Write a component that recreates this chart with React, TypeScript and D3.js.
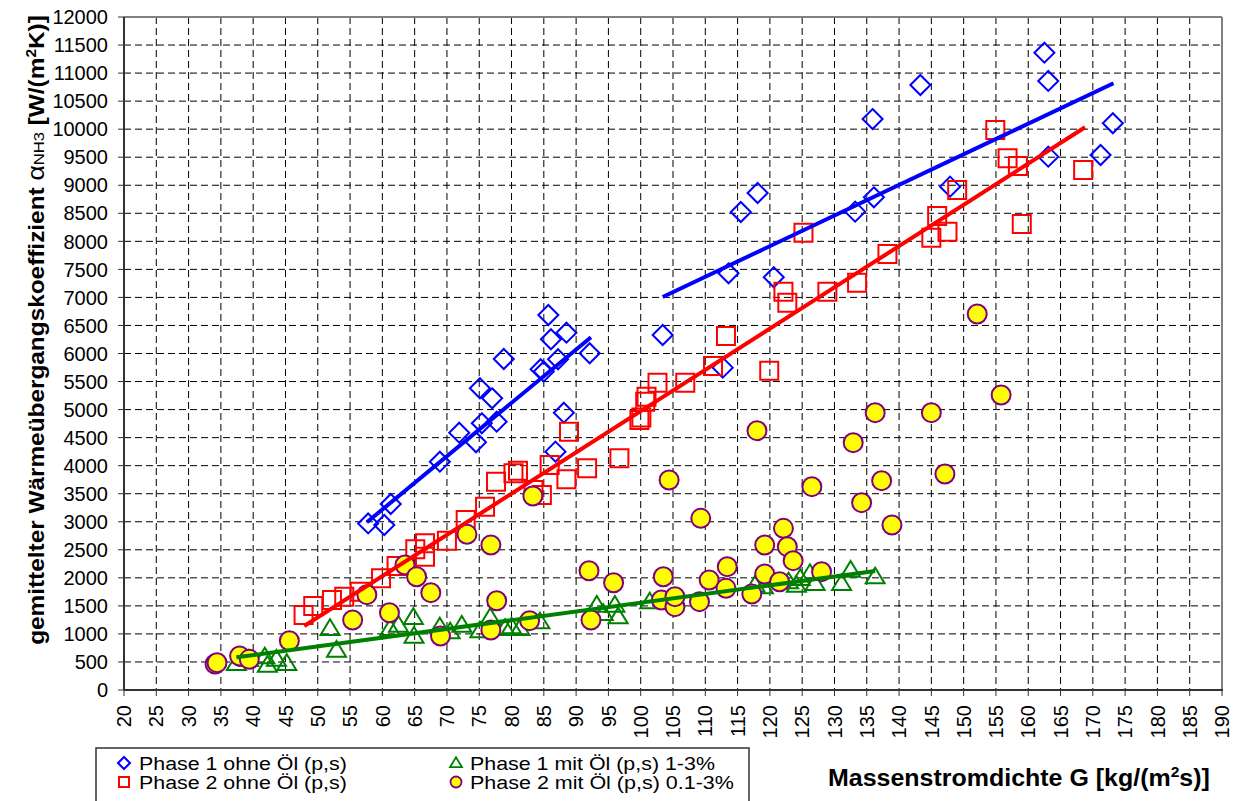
import React, { useLayoutEffect, useRef, useState } from "react";
import * as d3 from "d3";

type Pt = [number, number];

const X_TICKS = d3.range(20, 191, 5);
const Y_TICKS = d3.range(0, 12001, 500);

const phase1Ohne: Pt[] = [
  [57.8, 2970], [60.3, 2942], [61.3, 3317], [68.9, 4071], [71.9, 4588], [74.5, 4417],
  [75.4, 4755], [77.7, 4784], [75.1, 5380], [77.0, 5201], [78.8, 5902], [84.5, 5720],
  [85.0, 5680], [85.7, 6687], [86.1, 6254], [88.5, 6371], [87.2, 5897], [92.1, 6004],
  [88.1, 4945], [86.8, 4250], [103.4, 6330], [113.6, 7430], [120.6, 7359], [112.7, 5748],
  [115.5, 8523], [118.1, 8862], [135.9, 10180], [143.3, 10788], [162.5, 11364], [163.1, 10860],
  [173.1, 10105], [171.2, 9540], [163.1, 9510], [147.9, 8975], [136.1, 8785], [133.2, 8529],
];

const phase2Ohne: Pt[] = [
  [47.8, 1337], [49.3, 1498], [52.2, 1605], [54.1, 1664], [56.5, 1753], [59.8, 1991],
  [62.2, 2211], [65.1, 2509], [66.6, 2377], [66.6, 2616], [70.0, 2663], [72.9, 3031],
  [75.9, 3269], [77.6, 3715], [80.3, 3864], [81.0, 3911], [83.4, 3566], [84.7, 3477],
  [85.9, 4012], [88.5, 3757], [88.9, 4606], [91.7, 3953], [96.7, 4131], [99.8, 4815],
  [100.1, 4860], [100.7, 5141], [100.9, 5230], [102.6, 5480], [106.9, 5480], [111.2, 5777],
  [113.2, 6312], [119.9, 5694], [122.1, 7103], [122.7, 6906], [125.2, 8155], [128.9, 7103],
  [133.5, 7263], [138.2, 7775], [145.0, 8066], [145.9, 8452], [147.5, 8173], [149.0, 8916],
  [154.9, 9986], [156.8, 9481], [158.4, 9344], [159.0, 8310], [168.5, 9272],
];

const phase1Mit: Pt[] = [
  [37.4, 476], [39.3, 547], [41.8, 594], [42.2, 446], [43.6, 553], [45.2, 476],
  [51.9, 1100], [52.9, 713], [61.2, 1100], [62.5, 1159], [64.8, 1296], [64.9, 963],
  [68.9, 1129], [70.5, 1040], [72.3, 1159], [75.1, 1058], [76.7, 1296], [79.0, 1100],
  [80.0, 1129], [81.3, 1100], [84.4, 1218], [93.2, 1516], [94.2, 1368], [96.0, 1516],
  [96.5, 1308], [101.4, 1575], [117.7, 1872], [119.0, 1842], [122.9, 1931], [124.1, 1872],
  [124.7, 1991], [126.2, 2080], [127.0, 1902], [131.1, 1902], [132.5, 2140], [136.3, 2020],
];

const phase2Mit: Pt[] = [
  [34.1, 464], [34.4, 487], [37.9, 606], [39.4, 547], [45.6, 879], [55.4, 1248],
  [57.6, 1700], [61.1, 1378], [63.5, 2229], [65.3, 2020], [67.5, 1735], [69.0, 963],
  [73.1, 2776], [76.8, 2586], [77.7, 1592], [76.8, 1070], [82.8, 1236], [83.3, 3459],
  [92.0, 2127], [92.3, 1248], [95.8, 1913], [104.4, 3745], [103.5, 2020], [103.2, 1605],
  [105.3, 1486], [105.3, 1664], [109.3, 3061], [109.1, 1575], [110.6, 1961], [113.4, 2199],
  [113.2, 1813], [117.2, 1712], [118.0, 4624], [119.2, 2586], [119.2, 2068], [121.5, 1931],
  [122.1, 2883], [122.7, 2556], [123.6, 2306], [126.5, 3625], [128.0, 2110], [132.9, 4410],
  [134.2, 3340], [136.3, 4945], [137.3, 3732], [138.9, 2942], [145.0, 4945], [147.1, 3852],
  [152.1, 6705], [155.8, 5260],
];

const trendBlue1: Pt[] = [[57.6, 2990], [92.3, 6290]];
const trendBlue2: Pt[] = [[103.4, 7008], [173.2, 10818]];
const trendRed: Pt[] = [[47.9, 1141], [168.8, 10034]];
const trendGreen: Pt[] = [[37.4, 583], [136.3, 2120]];

const legendLabels = [
  "Phase 1 ohne Öl (p,s)",
  "Phase 2 ohne Öl (p,s)",
  "Phase 1 mit Öl (p,s) 1-3%",
  "Phase 2 mit Öl (p,s) 0.1-3%",
];

const FONT = "'Liberation Sans', Arial, sans-serif";

const xScale = d3.scaleLinear().domain([20, 190]).range([124, 1222]);
const yScale = d3.scaleLinear().domain([0, 12000]).range([690, 17]);

function FitText(props: {
  x: number; y: number; rotate?: number; width: number; anchor?: string;
  size: number; weight?: string; children: React.ReactNode;
}) {
  const ref = useRef<SVGTextElement>(null);
  const [s, setS] = useState(1);
  useLayoutEffect(() => {
    if (ref.current) {
      const len = ref.current.getComputedTextLength();
      if (len > 0) setS(props.width / len);
    }
  }, [props.width]);
  return (
    <g transform={`translate(${props.x},${props.y}) rotate(${props.rotate || 0}) scale(${s},1)`}>
      <text ref={ref} textAnchor={props.anchor || "start"} fontFamily={FONT}
        fontSize={props.size} fontWeight={props.weight || "normal"} fill="#000">
        {props.children}
      </text>
    </g>
  );
}

const diamond = (cx: number, cy: number, r: number) =>
  `M${cx},${cy - r}L${cx + r},${cy}L${cx},${cy + r}L${cx - r},${cy}Z`;
const square = (cx: number, cy: number, h: number) =>
  `M${cx - h},${cy - h}H${cx + h}V${cy + h}H${cx - h}Z`;
const triangle = (cx: number, cy: number, w: number) =>
  `M${cx},${cy - w * 0.95}L${cx + w},${cy + w * 0.7}L${cx - w},${cy + w * 0.7}Z`;

export default function App() {
  const line = d3.line<Pt>().x((d) => xScale(d[0])).y((d) => yScale(d[1]));
  const x0 = xScale(20), x1 = xScale(190), y0 = yScale(0), y1 = yScale(12000);

  return (
    <svg width={1237} height={801} style={{ position: "absolute", left: 0, top: 0, background: "#fff" }}>
      <rect x={0} y={0} width={1237} height={801} fill="#fff" />
      {/* grid */}
      {X_TICKS.filter((v) => v > 20 && v < 190).map((v) => (
        <line key={"gx" + v} x1={xScale(v)} x2={xScale(v)} y1={y1} y2={y0}
          stroke="#000" strokeWidth={1} strokeDasharray="7,4" />
      ))}
      {Y_TICKS.filter((v) => v > 0 && v < 12000).map((v) => (
        <line key={"gy" + v} x1={x0} x2={x1} y1={yScale(v)} y2={yScale(v)}
          stroke="#000" strokeWidth={1} strokeDasharray="7,4" />
      ))}
      {/* border */}
      <line x1={x0} x2={x1} y1={y1} y2={y1} stroke="#808080" strokeWidth={2} />
      <line x1={x1} x2={x1} y1={y1} y2={y0} stroke="#808080" strokeWidth={2} />
      {/* axes */}
      <line x1={x0} x2={x1 + 1} y1={y0} y2={y0} stroke="#333" strokeWidth={2} />
      <line x1={x0} x2={x0} y1={y1} y2={y0} stroke="#333" strokeWidth={2} />
      {Y_TICKS.map((v) => (
        <g key={"ty" + v}>
          <line x1={x0 - 6} x2={x0} y1={yScale(v)} y2={yScale(v)} stroke="#333" strokeWidth={1} />
          <text x={108} y={yScale(v)} dy="0.36em" textAnchor="end" fontFamily={FONT} fontSize={20}>{v}</text>
        </g>
      ))}
      {X_TICKS.map((v) => (
        <g key={"tx" + v}>
          <line x1={xScale(v)} x2={xScale(v)} y1={y0} y2={y0 + 6} stroke="#333" strokeWidth={1} />
          <text transform={`translate(${xScale(v)},705) rotate(-90)`} dy="0.36em" textAnchor="end"
            fontFamily={FONT} fontSize={20}>{v}</text>
        </g>
      ))}

      {/* series */}
      {phase1Ohne.map((d, i) => (
        <path key={"b" + i} d={diamond(xScale(d[0]), yScale(d[1]), 10)} fill="none" stroke="#0000FF" strokeWidth={2} />
      ))}
      {phase2Ohne.map((d, i) => (
        <path key={"r" + i} d={square(xScale(d[0]), yScale(d[1]), 9)} fill="none" stroke="#FF0000" strokeWidth={2} />
      ))}
      {phase1Mit.map((d, i) => (
        <path key={"g" + i} d={triangle(xScale(d[0]), yScale(d[1]), 9.5)} fill="none" stroke="#008000" strokeWidth={2} />
      ))}
      {phase2Mit.map((d, i) => (
        <circle key={"y" + i} cx={xScale(d[0])} cy={yScale(d[1])} r={9.5} fill="#FFFF00" stroke="#800080" strokeWidth={2} />
      ))}

      {/* trend lines */}
      <path d={line(trendBlue1) || ""} stroke="#0000FF" strokeWidth={4} fill="none" />
      <path d={line(trendBlue2) || ""} stroke="#0000FF" strokeWidth={4} fill="none" />
      <path d={line(trendRed) || ""} stroke="#FF0000" strokeWidth={4} fill="none" />
      <path d={line(trendGreen) || ""} stroke="#008000" strokeWidth={4} fill="none" />

      {/* y title */}
      <FitText x={44} y={330} rotate={-90} width={630} anchor="middle" size={22} weight="bold">
        <tspan>gemittelter Wärmeübergangskoeffizient </tspan>
        <tspan fontWeight="normal" fontSize={24}>α</tspan>
        <tspan fontWeight="normal" fontSize={15}>NH3</tspan>
        <tspan> [W/(m</tspan>
        <tspan fontSize={14} dy={-8}>2</tspan>
        <tspan dy={8}>K)]</tspan>
      </FitText>

      {/* x title */}
      <FitText x={828} y={786} width={382} size={24} weight="bold">
        <tspan>Massenstromdichte G [kg/(m</tspan>
        <tspan fontSize={15} dy={-9}>2</tspan>
        <tspan dy={9}>s)]</tspan>
      </FitText>

      {/* legend */}
      <rect x={96} y={748} width={653} height={70} fill="#fff" stroke="#333" strokeWidth={1.5} />
      <path d={diamond(124, 763, 6)} fill="none" stroke="#0000FF" strokeWidth={2} />
      <path d={square(124, 782, 5)} fill="none" stroke="#FF0000" strokeWidth={2} />
      <path d={triangle(456, 763, 6)} fill="none" stroke="#008000" strokeWidth={1.8} />
      <circle cx={456} cy={782} r={5.5} fill="#FFFF00" stroke="#800080" strokeWidth={1.8} />
      <FitText x={139} y={769.5} width={208} size={18}>{legendLabels[0]}</FitText>
      <FitText x={139} y={788.5} width={208} size={18}>{legendLabels[1]}</FitText>
      <FitText x={470} y={769.5} width={245} size={18}>{legendLabels[2]}</FitText>
      <FitText x={470} y={788.5} width={264} size={18}>{legendLabels[3]}</FitText>
    </svg>
  );
}
